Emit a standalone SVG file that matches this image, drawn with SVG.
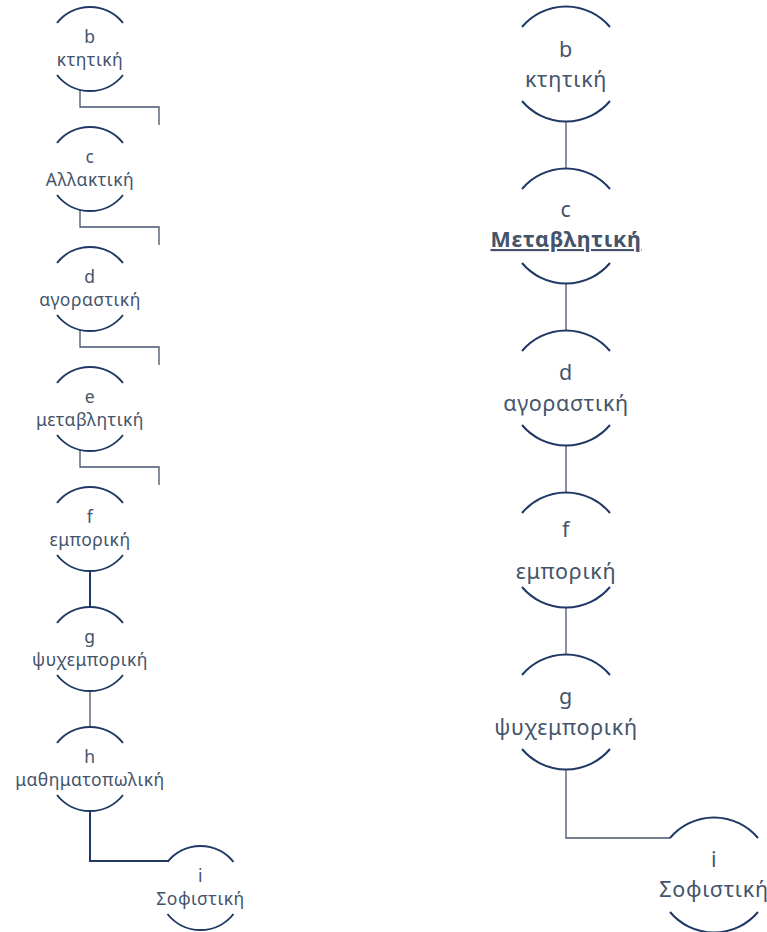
<svg xmlns="http://www.w3.org/2000/svg" width="767" height="932" viewBox="0 0 767 932">
<defs>
<style>
.arc{fill:none;stroke:#1F3864;stroke-width:2}
.ln{fill:none;stroke:#44546A;stroke-width:1.3}
.lnb{fill:none;stroke:#1F3864;stroke-width:2}
.ts{font-family:"Noto Sans","Open Sans","Liberation Sans",sans-serif;font-size:17.5px;letter-spacing:0.5px;fill:#44546A;text-anchor:middle}
.tl{font-family:"Noto Sans","Open Sans","Liberation Sans",sans-serif;font-size:21.5px;letter-spacing:0.7px;fill:#44546A;text-anchor:middle}
.tb{font-weight:bold;text-decoration:underline}
</style>
</defs>
<rect width="767" height="932" fill="#ffffff"/>
<g id="connectors">
<path class="ln" d="M80 90 V107 H159 V125"/>
<path class="ln" d="M80 210 V227 H159 V245"/>
<path class="ln" d="M80 330 V347 H159 V365"/>
<path class="ln" d="M80 450 V467 H159 V485"/>
<path class="lnb" d="M90 571 V607"/>
<path class="ln" d="M90 691 V727"/>
<path class="lnb" d="M90 811 V861 H168"/>
<path class="ln" d="M566 122 V168"/>
<path class="ln" d="M566 284 V330"/>
<path class="ln" d="M566 446 V492"/>
<path class="ln" d="M566 608 V654"/>
<path class="ln" d="M566 770 V838 H670"/>
</g>
<g id="L_b">
<path class="arc" d="M57 23 A42 42 0 0 1 123 23 M57 75 A42 42 0 0 0 123 75"/>
<text class="ts" x="90" y="43">b</text><text class="ts" x="90" y="66">κτητική</text>
</g>
<g id="L_c">
<path class="arc" d="M57 143 A42 42 0 0 1 123 143 M57 195 A42 42 0 0 0 123 195"/>
<text class="ts" x="90" y="163">c</text><text class="ts" x="90" y="186">Αλλακτική</text>
</g>
<g id="L_d">
<path class="arc" d="M57 263 A42 42 0 0 1 123 263 M57 315 A42 42 0 0 0 123 315"/>
<text class="ts" x="90" y="283">d</text><text class="ts" x="90" y="306">αγοραστική</text>
</g>
<g id="L_e">
<path class="arc" d="M57 383 A42 42 0 0 1 123 383 M57 435 A42 42 0 0 0 123 435"/>
<text class="ts" x="90" y="403">e</text><text class="ts" x="90" y="426">μεταβλητική</text>
</g>
<g id="L_f">
<path class="arc" d="M57 503 A42 42 0 0 1 123 503 M57 555 A42 42 0 0 0 123 555"/>
<text class="ts" x="90" y="523">f</text><text class="ts" x="90" y="546">εμπορική</text>
</g>
<g id="L_g">
<path class="arc" d="M57 623 A42 42 0 0 1 123 623 M57 675 A42 42 0 0 0 123 675"/>
<text class="ts" x="90" y="643">g</text><text class="ts" x="90" y="666">ψυχεμπορική</text>
</g>
<g id="L_h">
<path class="arc" d="M57 743 A42 42 0 0 1 123 743 M57 795 A42 42 0 0 0 123 795"/>
<text class="ts" x="90" y="763">h</text><text class="ts" x="90" y="786">μαθηματοπωλική</text>
</g>
<g id="L_i">
<path class="arc" d="M167.5 862 A42 42 0 0 1 233.5 862 M167.5 914 A42 42 0 0 0 233.5 914"/>
<text class="ts" x="200.5" y="882">i</text><text class="ts" x="200.5" y="905">Σοφιστική</text>
</g>
<g id="R_b">
<path class="arc" d="M522 27 A57.5 57.5 0 0 1 610 27 M522 101 A57.5 57.5 0 0 0 610 101"/>
<text class="tl" x="566" y="57">b</text><text class="tl" x="566" y="87">κτητική</text>
</g>
<g id="R_c">
<path class="arc" d="M522 189 A57.5 57.5 0 0 1 610 189 M522 263 A57.5 57.5 0 0 0 610 263"/>
<text class="tl" x="566" y="217">c</text><text class="tl tb" x="566" y="247">Μεταβλητική</text>
</g>
<g id="R_d">
<path class="arc" d="M522 351 A57.5 57.5 0 0 1 610 351 M522 425 A57.5 57.5 0 0 0 610 425"/>
<text class="tl" x="566" y="380">d</text><text class="tl" x="566" y="411">αγοραστική</text>
</g>
<g id="R_f">
<path class="arc" d="M522 513 A57.5 57.5 0 0 1 610 513 M522 587 A57.5 57.5 0 0 0 610 587"/>
<text class="tl" x="566" y="537">f</text><text class="tl" x="566" y="579">εμπορική</text>
</g>
<g id="R_g">
<path class="arc" d="M522 675 A57.5 57.5 0 0 1 610 675 M522 749 A57.5 57.5 0 0 0 610 749"/>
<text class="tl" x="566" y="704">g</text><text class="tl" x="566" y="735">ψυχεμπορική</text>
</g>
<g id="R_i">
<path class="arc" d="M670 838 A57.5 57.5 0 0 1 758 838 M670 912 A57.5 57.5 0 0 0 758 912"/>
<text class="tl" x="714" y="867">i</text><text class="tl" x="714" y="897">Σοφιστική</text>
</g>
</svg>
